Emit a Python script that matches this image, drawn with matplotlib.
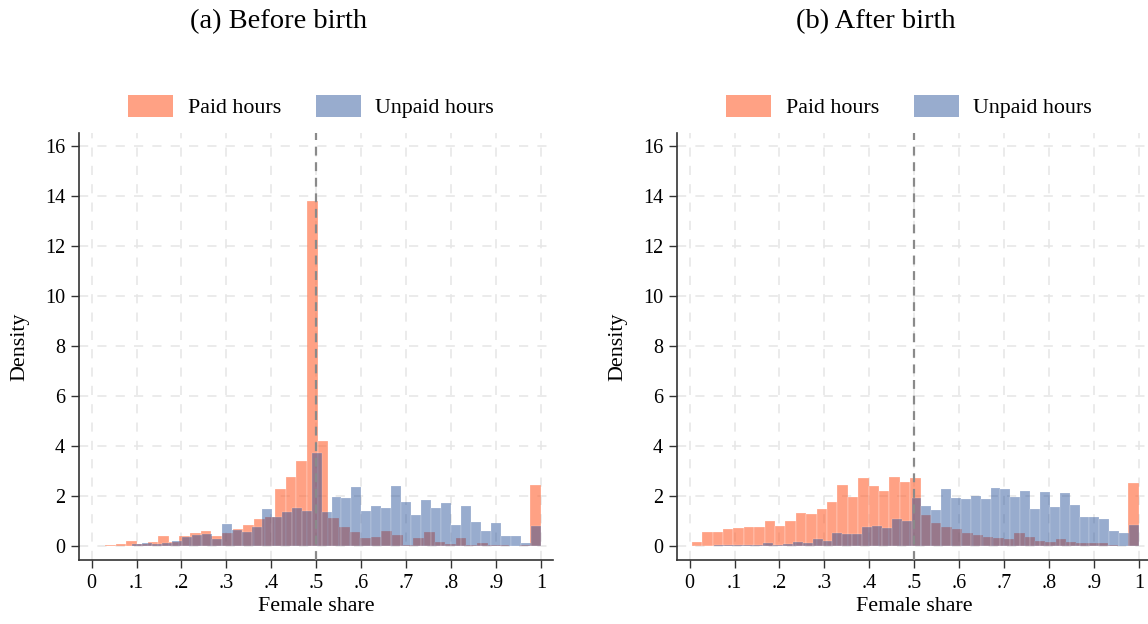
import numpy as np
import matplotlib
matplotlib.use("Agg")
import matplotlib.pyplot as plt
from matplotlib.patches import Patch

plt.rcParams["font.family"] = ["Liberation Serif", "DejaVu Serif"]

# Histogram densities of the female share of couple hours (bins end at 1)
# (a) before birth
before_paid_start, before_paid_width = 0.03, 0.02366
before_paid = [0.04, 0.07, 0.2, 0.09, 0.15, 0.4, 0.17, 0.4, 0.5, 0.61,
               0.4, 0.5, 0.67, 0.84, 1.07, 1.15, 2.27, 2.77, 3.4, 13.8,
               4.21, 1.1, 0.77, 0.57, 0.31, 0.37, 0.61, 0.44, 0.04, 0.31,
               0.55, 0.17, 0.08, 0.33, 0.04, 0.13, 0.05, 0.02, 0.01, 0.02,
               2.44]
before_unpaid_start, before_unpaid_width = 0.09, 0.0222
before_unpaid = [0.08, 0.1, 0.08, 0.13, 0.2, 0.35, 0.44, 0.48, 0.27, 0.87,
                 0.64, 0.55, 0.75, 1.47, 1.15, 1.37, 1.53, 1.4, 3.71, 1.37,
                 1.95, 1.91, 2.35, 1.4, 1.6, 1.53, 2.41, 1.77, 1.25, 1.84,
                 1.5, 1.73, 0.84, 1.6, 0.95, 0.61, 0.91, 0.41, 0.4, 0.13,
                 0.8]

# (b) after birth
after_paid_start, after_paid_width = 0.005, 0.02314
after_paid = [0.17, 0.56, 0.56, 0.68, 0.72, 0.75, 0.77, 0.99, 0.81, 0.99,
              1.33, 1.28, 1.48, 1.75, 2.43, 1.97, 2.72, 2.39, 2.21, 2.76,
              2.55, 2.73, 1.24, 0.91, 0.77, 0.67, 0.53, 0.44, 0.37, 0.31,
              0.28, 0.53, 0.37, 0.2, 0.15, 0.28, 0.15, 0.11, 0.1, 0.1,
              0.02, 0.01, 2.52]
after_unpaid_start, after_unpaid_width = 0.01, 0.022
after_unpaid = [0.01, 0.01, 0.02, 0.02, 0.03, 0.04, 0.05, 0.1, 0.04, 0.08,
                0.17, 0.13, 0.29, 0.21, 0.53, 0.49, 0.47, 0.77, 0.8, 0.73,
                1.08, 1.01, 1.91, 1.6, 1.44, 2.27, 1.93, 1.87, 2.0, 1.87,
                2.31, 2.29, 1.95, 2.21, 1.47, 2.17, 1.57, 2.13, 1.64, 1.17,
                1.17, 1.08, 0.6, 0.51, 0.84]

titles = ["(a) Before birth", "(b) After birth"]
x_ticks = np.arange(0, 11) / 10
x_labels = ["0", ".1", ".2", ".3", ".4", ".5", ".6", ".7", ".8", ".9", "1"]
y_ticks = np.arange(0, 17, 2)

paid_color = (1.0, 0.39, 0.2)
unpaid_color = (0.11, 0.28, 0.58)
paid_alpha = 0.6
unpaid_alpha = 0.45


def draw_hist(ax, start, width, heights, color, alpha):
    heights = np.asarray(heights)
    lefts = start + width * np.arange(len(heights))
    ax.bar(lefts, heights, width=width, align="edge", color=color,
           alpha=alpha, edgecolor="white", linewidth=0.3, zorder=2)


W, H = 1148, 624
fig = plt.figure(figsize=(W / 100, H / 100), dpi=100)
ax1 = fig.add_axes([79 / W, 64 / H, 474 / W, 427 / H])
ax2 = fig.add_axes([677 / W, 64 / H, 474 / W, 427 / H])

panels = [
    (ax1, (before_paid_start, before_paid_width, before_paid),
     (before_unpaid_start, before_unpaid_width, before_unpaid)),
    (ax2, (after_paid_start, after_paid_width, after_paid),
     (after_unpaid_start, after_unpaid_width, after_unpaid)),
]

for ax, paid, unpaid in panels:
    draw_hist(ax, *paid, paid_color, paid_alpha)
    draw_hist(ax, *unpaid, unpaid_color, unpaid_alpha)
    ax.axvline(0.5, color="#8a8a8a", lw=1.6, dashes=(4, 3), zorder=3)

    ax.set_xlim(-0.028, 1.027)
    ax.set_ylim(-0.56, 16.5)
    ax.set_xticks(x_ticks)
    ax.set_xticklabels(x_labels)
    ax.set_yticks(y_ticks)
    ax.tick_params(labelsize=14.5, length=6, width=1, color="#333333",
                   pad=4)
    ax.grid(True, color="#e6e6e6", lw=1.1, dashes=(6, 6), zorder=0)
    ax.set_axisbelow(True)
    for side in ["top", "right"]:
        ax.spines[side].set_visible(False)
    for side in ["left", "bottom"]:
        ax.spines[side].set_color("#333333")
        ax.spines[side].set_linewidth(1.2)
    ax.set_xlabel("Female share", fontsize=15.8, labelpad=3)
    ax.set_ylabel("Density", fontsize=15.8, labelpad=11)

    handles = [Patch(facecolor=paid_color, alpha=paid_alpha, edgecolor="none"),
               Patch(facecolor=unpaid_color, alpha=unpaid_alpha, edgecolor="none")]
    ax.legend(handles, ["Paid hours", "Unpaid hours"], loc="center",
              bbox_to_anchor=(0.49, 1.062), ncol=2, frameon=False,
              fontsize=15.8, handlelength=2.05, handleheight=1.2,
              handletextpad=0.68, columnspacing=1.55)

fig.text(279 / W, 1 - 22 / H, titles[0], ha="center", va="center", fontsize=20.5)
fig.text(876 / W, 1 - 22 / H, titles[1], ha="center", va="center", fontsize=20.5)

fig.savefig("out.png", dpi=100)
